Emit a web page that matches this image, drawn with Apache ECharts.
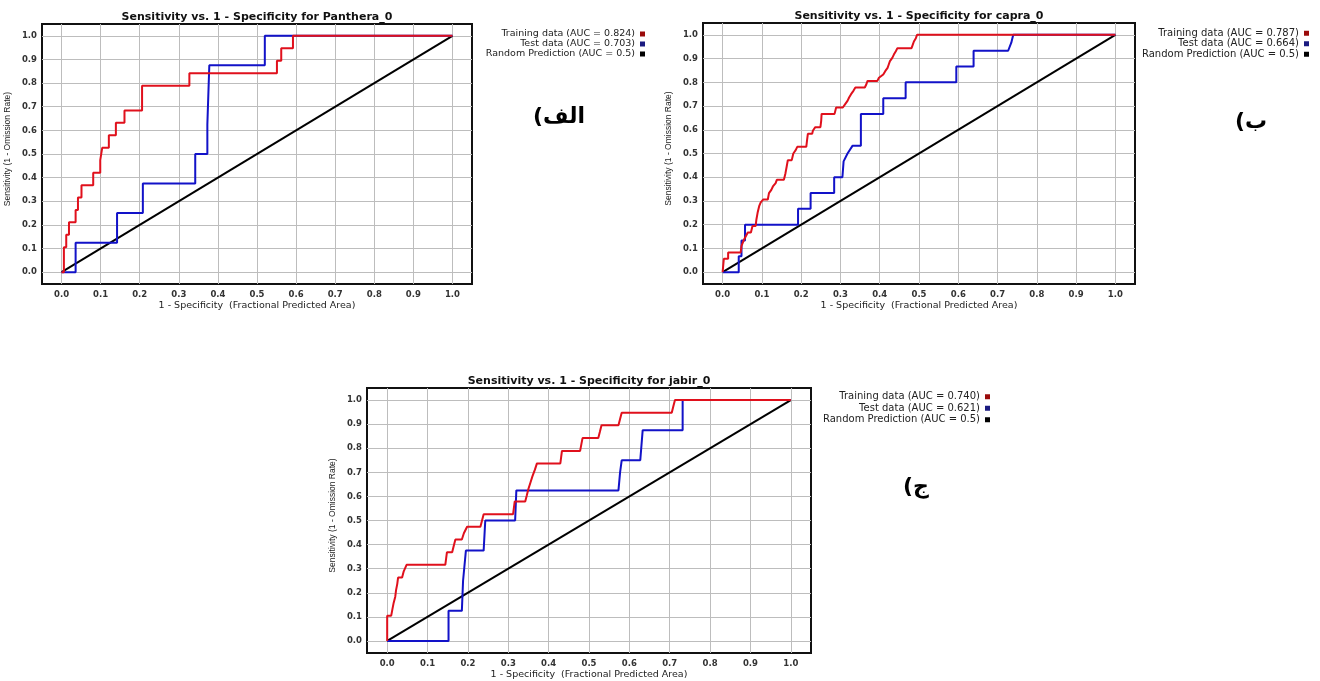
<!DOCTYPE html>
<html>
<head>
<meta charset="utf-8">
<script src="https://cdn.jsdelivr.net/npm/echarts@6/dist/echarts.min.js"></script>
<style>html,body{margin:0;padding:0;background:#fff}#c{width:1320px;height:681px}</style>
</head>
<body>
<div id="c"></div>
<script>
// ---- Data ----
const titles = ['Sensitivity vs. 1 - Specificity for Panthera_0', 'Sensitivity vs. 1 - Specificity for capra_0', 'Sensitivity vs. 1 - Specificity for jabir_0'];
const panelLabels = ['الف)\u200F', 'ب)\u200F', 'ج)\u200F'];
const xAxisName = '1 - Specificity  (Fractional Predicted Area)';
const yAxisName = 'Sensitivity (1 - Omission Rate)';
const trainNames = ['Training data (AUC = 0.824)', 'Training data (AUC = 0.787)', 'Training data (AUC = 0.740)'];
const testNames = ['Test data (AUC = 0.703)', 'Test data (AUC = 0.664)', 'Test data (AUC = 0.621)'];
const randomName = 'Random Prediction (AUC = 0.5)';

// Panthera_0
const panTrainX = [0, 0.006, 0.006, 0.012, 0.012, 0.019, 0.019, 0.036, 0.036, 0.042, 0.042, 0.051, 0.051, 0.081, 0.081, 0.099, 0.099, 0.104, 0.104, 0.121, 0.121, 0.139, 0.139, 0.161, 0.161, 0.206, 0.206, 0.327, 0.327, 0.551, 0.551, 0.562, 0.562, 0.592, 0.592, 1.0];
const panTrainY = [0, 0, 0.105, 0.105, 0.158, 0.158, 0.211, 0.211, 0.263, 0.263, 0.316, 0.316, 0.368, 0.368, 0.421, 0.421, 0.474, 0.474, 0.526, 0.526, 0.579, 0.579, 0.632, 0.632, 0.684, 0.684, 0.789, 0.789, 0.842, 0.842, 0.895, 0.895, 0.947, 0.947, 1.0, 1.0];
const panTestX = [0, 0.036, 0.036, 0.142, 0.142, 0.208, 0.208, 0.342, 0.342, 0.373, 0.373, 0.378, 0.378, 0.52, 0.52, 1.0];
const panTestY = [0, 0, 0.125, 0.125, 0.25, 0.25, 0.375, 0.375, 0.5, 0.5, 0.625, 0.625, 0.875, 0.875, 1.0, 1.0];

// capra_0
const capTrainX = [0, 0.003, 0.003, 0.014, 0.014, 0.046, 0.048, 0.052, 0.055, 0.06, 0.064, 0.072, 0.076, 0.084, 0.086, 0.089, 0.093, 0.097, 0.103, 0.115, 0.118, 0.124, 0.128, 0.135, 0.138, 0.156, 0.16, 0.163, 0.166, 0.176, 0.18, 0.186, 0.19, 0.213, 0.215, 0.217, 0.228, 0.23, 0.236, 0.249, 0.251, 0.252, 0.285, 0.289, 0.306, 0.312, 0.318, 0.322, 0.327, 0.333, 0.338, 0.362, 0.366, 0.369, 0.394, 0.398, 0.409, 0.414, 0.42, 0.423, 0.426, 0.432, 0.436, 0.441, 0.445, 0.481, 0.484, 0.487, 0.492, 0.495, 1.0];
const capTrainY = [0, 0, 0.056, 0.056, 0.083, 0.083, 0.111, 0.111, 0.139, 0.139, 0.167, 0.167, 0.194, 0.194, 0.222, 0.25, 0.278, 0.294, 0.306, 0.306, 0.333, 0.347, 0.361, 0.375, 0.389, 0.389, 0.417, 0.444, 0.472, 0.472, 0.5, 0.514, 0.528, 0.528, 0.556, 0.583, 0.583, 0.597, 0.611, 0.611, 0.639, 0.667, 0.667, 0.694, 0.694, 0.708, 0.722, 0.736, 0.75, 0.764, 0.778, 0.778, 0.792, 0.806, 0.806, 0.819, 0.833, 0.847, 0.861, 0.875, 0.889, 0.903, 0.917, 0.931, 0.944, 0.944, 0.958, 0.972, 0.986, 1.0, 1.0];
const capTestX = [0, 0.041, 0.041, 0.048, 0.048, 0.057, 0.057, 0.192, 0.192, 0.224, 0.224, 0.284, 0.284, 0.305, 0.308, 0.318, 0.331, 0.352, 0.352, 0.409, 0.409, 0.466, 0.466, 0.595, 0.595, 0.639, 0.639, 0.727, 0.735, 0.74, 1.0];
const capTestY = [0, 0, 0.067, 0.067, 0.133, 0.133, 0.2, 0.2, 0.267, 0.267, 0.333, 0.333, 0.4, 0.4, 0.467, 0.5, 0.533, 0.533, 0.667, 0.667, 0.733, 0.733, 0.8, 0.8, 0.867, 0.867, 0.933, 0.933, 0.967, 1.0, 1.0];

// jabir_0
const jabTrainX = [0, 0, 0.01, 0.013, 0.016, 0.02, 0.022, 0.025, 0.027, 0.037, 0.041, 0.048, 0.144, 0.146, 0.148, 0.161, 0.165, 0.169, 0.185, 0.19, 0.198, 0.231, 0.235, 0.239, 0.312, 0.314, 0.316, 0.342, 0.346, 0.35, 0.355, 0.36, 0.366, 0.371, 0.429, 0.431, 0.433, 0.478, 0.481, 0.484, 0.523, 0.527, 0.531, 0.573, 0.577, 0.581, 0.705, 0.709, 0.713, 1.0];
const jabTrainY = [0, 0.105, 0.105, 0.132, 0.158, 0.184, 0.211, 0.237, 0.263, 0.263, 0.289, 0.316, 0.316, 0.342, 0.368, 0.368, 0.395, 0.421, 0.421, 0.447, 0.474, 0.474, 0.5, 0.526, 0.526, 0.553, 0.579, 0.579, 0.605, 0.632, 0.658, 0.684, 0.711, 0.737, 0.737, 0.763, 0.789, 0.789, 0.816, 0.842, 0.842, 0.868, 0.895, 0.895, 0.921, 0.947, 0.947, 0.974, 1.0, 1.0];
const jabTestX = [0, 0.152, 0.152, 0.185, 0.188, 0.195, 0.239, 0.243, 0.317, 0.32, 0.573, 0.577, 0.581, 0.627, 0.633, 0.732, 0.732, 1.0];
const jabTestY = [0, 0, 0.125, 0.125, 0.25, 0.375, 0.375, 0.5, 0.5, 0.625, 0.625, 0.7, 0.75, 0.75, 0.875, 0.875, 1.0, 1.0];

const randomX = [0, 1];
const randomY = [0, 1];

// ---- Build ----
const zip = (xs, ys) => xs.map((x, i) => [x, ys[i]]);
const curves = [
  [zip(panTrainX, panTrainY), zip(panTestX, panTestY)],
  [zip(capTrainX, capTrainY), zip(capTestX, capTestY)],
  [zip(jabTrainX, jabTrainY), zip(jabTestX, jabTestY)]
];

const frames = [
  {left: 42, top: 24, width: 430, height: 260},
  {left: 703, top: 23, width: 432, height: 261},
  {left: 367, top: 388, width: 444, height: 268}
];
const legendPos = [
  {right: 670, top: 24, lh: 10, fs: 9.5},
  {right: 6, top: 23, lh: 10.5, fs: 10},
  {right: 325, top: 386, lh: 11.5, fs: 10}
];
const labelPos = [[559, 117], [1251, 122], [916, 487]];

const RED = '#e0101c', BLUE = '#1212c8', BLACK = '#000';
const FONT = '"Liberation Sans", Arial, sans-serif';
const WFONT = '"DejaVu Sans", sans-serif';

function fmt(v) {
  const t = Math.round(v * 100);
  return (t % 10 === 0 && t >= 0 && t <= 100) ? (t / 100).toFixed(1) : '';
}
function axisCommon(i, isX) {
  return {
    type: 'value', gridIndex: i, min: -0.05, max: 1.05, interval: 0.05,
    name: isX ? xAxisName : yAxisName,
    nameLocation: 'middle',
    nameGap: isX ? 17 : 30,
    nameTextStyle: isX ? {fontFamily: WFONT, fontSize: 9.5, color: '#222'} : {fontFamily: FONT, fontSize: 8.5, color: '#222', padding: [0, 0, 0, 10]},
    axisLine: {show: false},
    axisTick: {show: false},
    axisLabel: {formatter: fmt, fontFamily: WFONT, fontSize: 8.5, fontWeight: 'bold', color: '#333', margin: isX ? 6 : 5},
    splitLine: {show: true, lineStyle: {color: ['rgba(0,0,0,0)', '#bdbdbd'], width: 1}}
  };
}

const grid = [], xAxis = [], yAxis = [], series = [], legend = [], graphic = [];
for (let i = 0; i < 3; i++) {
  const f = frames[i];
  grid.push({left: f.left, top: f.top, width: f.width, height: f.height, show: true, borderColor: '#111', borderWidth: 2, backgroundColor: '#fff'});
  xAxis.push(axisCommon(i, true));
  yAxis.push(axisCommon(i, false));
  series.push({name: randomName, type: 'line', xAxisIndex: i, yAxisIndex: i, data: zip(randomX, randomY), showSymbol: false, lineStyle: {color: BLACK, width: 2}, itemStyle: {color: BLACK}, z: 2});
  series.push({name: testNames[i], type: 'line', xAxisIndex: i, yAxisIndex: i, data: curves[i][1], showSymbol: false, lineStyle: {color: BLUE, width: 2}, itemStyle: {color: '#1a1a80'}, z: 3});
  series.push({name: trainNames[i], type: 'line', xAxisIndex: i, yAxisIndex: i, data: curves[i][0], showSymbol: false, lineStyle: {color: RED, width: 2}, itemStyle: {color: '#9a0a0a'}, z: 4});
  const lp = legendPos[i];
  legend.push({
    orient: 'vertical', align: 'right', right: lp.right, top: lp.top, itemGap: 0, itemWidth: 5, itemHeight: 5,
    icon: 'rect', selectedMode: false,
    textStyle: {fontFamily: WFONT, fontSize: lp.fs, color: '#222', lineHeight: lp.lh, padding: [0, 0, 0, 0]},
    data: [
      {name: trainNames[i], itemStyle: {color: '#9a0a0a'}},
      {name: testNames[i], itemStyle: {color: '#1a1a80'}},
      {name: randomName, itemStyle: {color: '#000'}}
    ]
  });
  graphic.push({type: 'text', x: f.left + f.width / 2, y: f.top - 7, style: {text: titles[i], fill: '#111', font: 'bold 11px ' + WFONT, align: 'center', verticalAlign: 'middle'}});
  graphic.push({type: 'text', x: labelPos[i][0], y: labelPos[i][1], style: {text: panelLabels[i], fill: '#000', font: 'bold 22px "DejaVu Sans", sans-serif', align: 'center', verticalAlign: 'middle'}});
}

const chart = echarts.init(document.getElementById('c'));
chart.setOption({animation: false, backgroundColor: '#fff', grid, xAxis, yAxis, series, legend, graphic});
</script>
</body>
</html>
